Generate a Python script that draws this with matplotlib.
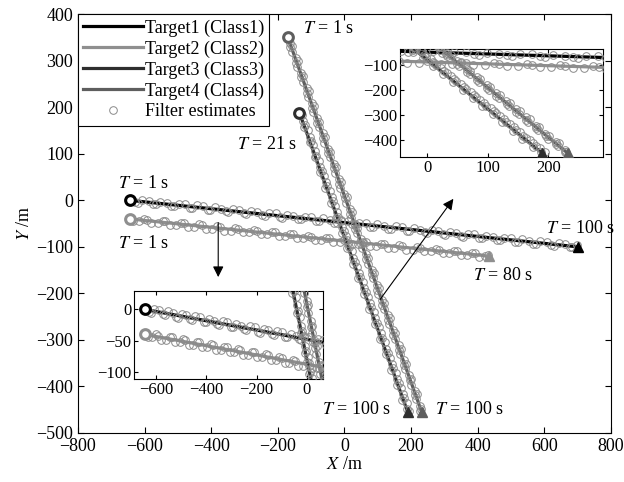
import numpy as np
import matplotlib
matplotlib.use('Agg')
import matplotlib.pyplot as plt

plt.rcParams['font.family'] = 'Liberation Serif'
plt.rcParams['mathtext.fontset'] = 'stix'
plt.rcParams['font.size'] = 13
plt.rcParams['xtick.direction'] = 'in'
plt.rcParams['ytick.direction'] = 'in'
plt.rcParams['xtick.top'] = True
plt.rcParams['ytick.right'] = True
plt.rcParams['axes.linewidth'] = 0.8

# ---------------- data ----------------
names = ['Target1 (Class1)', 'Target2 (Class2)', 'Target3 (Class3)', 'Target4 (Class4)']
colors = ['#000000', '#8f8f8f', '#2e2e2e', '#5e5e5e']

# true tracks: start and end points (constant velocity)
track_x = [[-645, 700], [-645, 435], [-135, 190], [-170, 232]]
track_y = [[0, -100], [-40, -120], [188, -455], [350, -455]]

# filter estimates, odd seconds
est1_x = [-643, -620, -588, -566, -533, -511, -479, -458, -425, -403, -370, -349, -316, -295,
          -262, -240, -207, -186, -153, -131, -99, -77, -44, -23, 10, 31, 64, 86, 119, 140,
          173, 194, 227, 249, 282, 303, 336, 357, 390, 412, 445, 466, 499, 520, 553, 575, 608,
          629, 662, 684]
est1_y = [2, -5, -1, -9, -6, -13, -9, -17, -12, -21, -18, -25, -20, -29, -26, -33, -28, -38,
          -33, -41, -36, -45, -42, -49, -45, -54, -49, -58, -55, -62, -57, -66, -63, -70, -65,
          -74, -71, -78, -73, -82, -79, -86, -81, -90, -87, -94, -89, -98, -95, -101]
est2_x = [-644, -616, -592, -561, -538, -506, -483, -452, -428, -397, -374, -342, -319, -288,
          -264, -233, -210, -178, -155, -124, -100, -69, -46, -14, 9, 41, 64, 95, 119, 150,
          173, 205, 228, 259, 283, 314, 337, 369, 392, 421]
est2_y = [-38, -45, -42, -49, -45, -53, -49, -57, -53, -61, -57, -65, -61, -69, -65, -73, -69,
          -77, -73, -81, -78, -86, -82, -90, -86, -94, -90, -98, -94, -102, -98, -106, -102,
          -110, -106, -114, -110, -118, -114, -119]
est3_x = [-133, -123, -121, -104, -104, -88, -88, -72, -73, -55, -57, -38, -40, -22, -24, -6, -7,
          11, 9, 27, 26, 44, 42, 60, 59, 77, 75, 93, 91, 110, 108, 126, 124, 143, 141, 159, 157,
          175, 174, 188]
est3_y = [190, 170, 157, 137, 125, 105, 92, 72, 60, 39, 27, 7, -5, -26, -38, -58, -70, -91, -103,
          -123, -136, -156, -168, -188, -201, -221, -233, -254, -266, -286, -298, -319, -331,
          -351, -364, -384, -396, -416, -429, -449]
est4_x = [-168, -157, -158, -140, -142, -123, -125, -107, -109, -91, -93, -75, -77, -58, -60,
          -42, -44, -26, -28, -10, -12, 7, 5, 23, 21, 39, 37, 55, 53, 71, 70, 88, 86, 104, 102,
          120, 118, 136, 135, 153, 151, 169, 167, 185, 183, 201, 200, 218, 216, 230]
est4_y = [352, 332, 319, 299, 287, 267, 254, 234, 222, 202, 189, 169, 157, 137, 124, 104, 92, 72,
          59, 39, 27, 7, -6, -26, -38, -59, -71, -91, -103, -124, -136, -156, -168, -189, -201,
          -221, -233, -254, -266, -286, -298, -319, -331, -351, -363, -384, -396, -416, -428, -449]

# filter estimates, even seconds
est1b_x = [-628, -607, -574, -553, -520, -498, -465, -444, -411, -390, -357, -335, -302, -281,
           -248, -227, -194, -172, -139, -118, -85, -64, -31, -9, 24, 45, 78, 99, 132, 154, 187,
           208, 241, 262, 295, 317, 350, 371, 404, 425, 458, 480, 513, 534, 567, 588, 621, 643,
           676, 697]
est1b_y = [-4, 1, -8, -3, -12, -7, -16, -11, -20, -15, -24, -19, -28, -23, -32, -27, -36, -31,
           -40, -35, -44, -39, -48, -43, -52, -48, -57, -52, -61, -56, -65, -60, -69, -64, -73,
           -68, -77, -72, -81, -76, -85, -80, -89, -84, -93, -88, -97, -92, -101, -97]
est2b_x = [-634, -601, -580, -546, -525, -492, -470, -437, -416, -382, -361, -328, -306, -273,
           -252, -218, -197, -164, -142, -109, -88, -54, -33, 0, 22, 55, 76, 110, 131, 164, 186,
           219, 240, 274, 295, 328, 350, 383, 404, 432]
est2b_y = [-45, -40, -49, -44, -53, -48, -57, -52, -61, -56, -65, -60, -69, -64, -73, -68, -77,
           -72, -81, -76, -86, -81, -90, -85, -94, -89, -98, -93, -102, -97, -106, -101, -110,
           -105, -114, -109, -118, -113, -121, -118]
est3b_x = [-126, -118, -110, -100, -93, -85, -76, -68, -60, -51, -44, -35, -27, -18, -11, -2, 6,
           15, 22, 32, 39, 48, 55, 64, 72, 81, 88, 97, 105, 114, 121, 130, 137, 147, 154, 163,
           170, 180, 187, 194]
est3b_y = [183, 161, 150, 128, 118, 95, 85, 63, 53, 30, 20, -2, -12, -35, -45, -67, -77, -100,
           -110, -132, -143, -165, -175, -197, -208, -230, -240, -263, -273, -295, -305, -328,
           -338, -360, -371, -393, -403, -425, -436, -452]
est4b_x = [-162, -162, -146, -146, -129, -129, -113, -113, -97, -97, -81, -81, -65, -64, -48,
           -48, -32, -32, -16, -16, 0, 1, 17, 17, 33, 33, 49, 49, 65, 65, 82, 82, 98, 98, 114,
           114, 130, 131, 147, 147, 163, 163, 179, 179, 195, 196, 212, 212, 228, 228]
est4b_y = [339, 329, 306, 296, 274, 264, 241, 231, 209, 199, 176, 166, 144, 134, 111, 101, 79,
           69, 46, 36, 14, 4, -19, -29, -51, -62, -84, -94, -116, -127, -149, -159, -181, -192,
           -214, -224, -246, -257, -279, -289, -311, -322, -344, -354, -376, -387, -409, -419,
           -441, -452]

est_x = [est1_x + est1b_x, est2_x + est2b_x, est3_x + est3b_x, est4_x + est4b_x]
est_y = [est1_y + est1b_y, est2_y + est2b_y, est3_y + est3b_y, est4_y + est4b_y]

# time labels: (text, x, y)
time_labels = [('$T$ = 1 s', -123, 370), ('$T$ = 21 s', -324, 119), ('$T$ = 1 s', -680, 37),
               ('$T$ = 1 s', -680, -92), ('$T$ = 100 s', 606, -60), ('$T$ = 80 s', 386, -161),
               ('$T$ = 100 s', -67, -450), ('$T$ = 100 s', 272, -450)]


def draw_tracks(ax):
    for i in range(4):
        ax.plot(track_x[i], track_y[i], '-', color=colors[i], lw=2.3, label=names[i], zorder=2)
        ax.plot(track_x[i][0], track_y[i][0], 'o', ms=7, mfc='white', mec=colors[i], mew=2.2, zorder=4)
        ax.plot(track_x[i][1], track_y[i][1], '^', ms=7, color=colors[i], zorder=4)
    for i in range(4):
        ax.plot(est_x[i], est_y[i], 'o', ms=5.5, mfc='none', mec='#8a8a8a', mew=0.7,
                label='Filter estimates' if i == 0 else None, zorder=3)


fig = plt.figure(figsize=(6.24, 4.82), dpi=100)
ax = fig.add_axes([0.125, 0.1017, 0.854, 0.869])
draw_tracks(ax)
ax.set_xlim(-800, 800)
ax.set_ylim(-500, 400)
ax.set_xticks(np.arange(-800, 801, 200))
ax.set_yticks(np.arange(-500, 401, 100))
ax.set_xlabel('$X$ /m', labelpad=1)
ax.set_ylabel('$Y$ /m', labelpad=2)
ax.tick_params(length=4, width=0.8, labelsize=13)

for txt, tx, ty in time_labels:
    ax.text(tx, ty, txt, fontsize=13, va='center', ha='left', zorder=6)

leg = ax.legend(loc='upper left', borderaxespad=0, fancybox=False, edgecolor='black',
                framealpha=1, handlelength=3.3, handletextpad=0.1, labelspacing=0.2,
                borderpad=0.3, fontsize=13)
leg.get_frame().set_linewidth(0.8)

# arrows to insets
ax.annotate('', xy=(-379, -171), xytext=(-379, -42),
            arrowprops=dict(arrowstyle='-|>', color='black', lw=0.8, mutation_scale=16), zorder=6)
ax.annotate('', xy=(332, 8), xytext=(102, -218),
            arrowprops=dict(arrowstyle='-|>', color='black', lw=0.8, mutation_scale=16), zorder=6)

# inset: lower-left
ax1 = fig.add_axes([0.2147, 0.213, 0.303, 0.184])
draw_tracks(ax1)
ax1.set_xlim(-688, 65)
ax1.set_ylim(-112, 30)
ax1.set_xticks([-600, -400, -200, 0])
ax1.set_yticks([-100, -50, 0])
ax1.tick_params(length=3, width=0.8, labelsize=12, pad=2)

# inset: upper-right
ax2 = fig.add_axes([0.641, 0.674, 0.325, 0.224])
draw_tracks(ax2)
ax2.set_xlim(-45, 290)
ax2.set_ylim(-471, -36)
ax2.set_xticks([0, 100, 200])
ax2.set_yticks([-400, -300, -200, -100])
ax2.tick_params(length=3, width=0.8, labelsize=12, pad=2)

fig.savefig('out.png', dpi=100)
